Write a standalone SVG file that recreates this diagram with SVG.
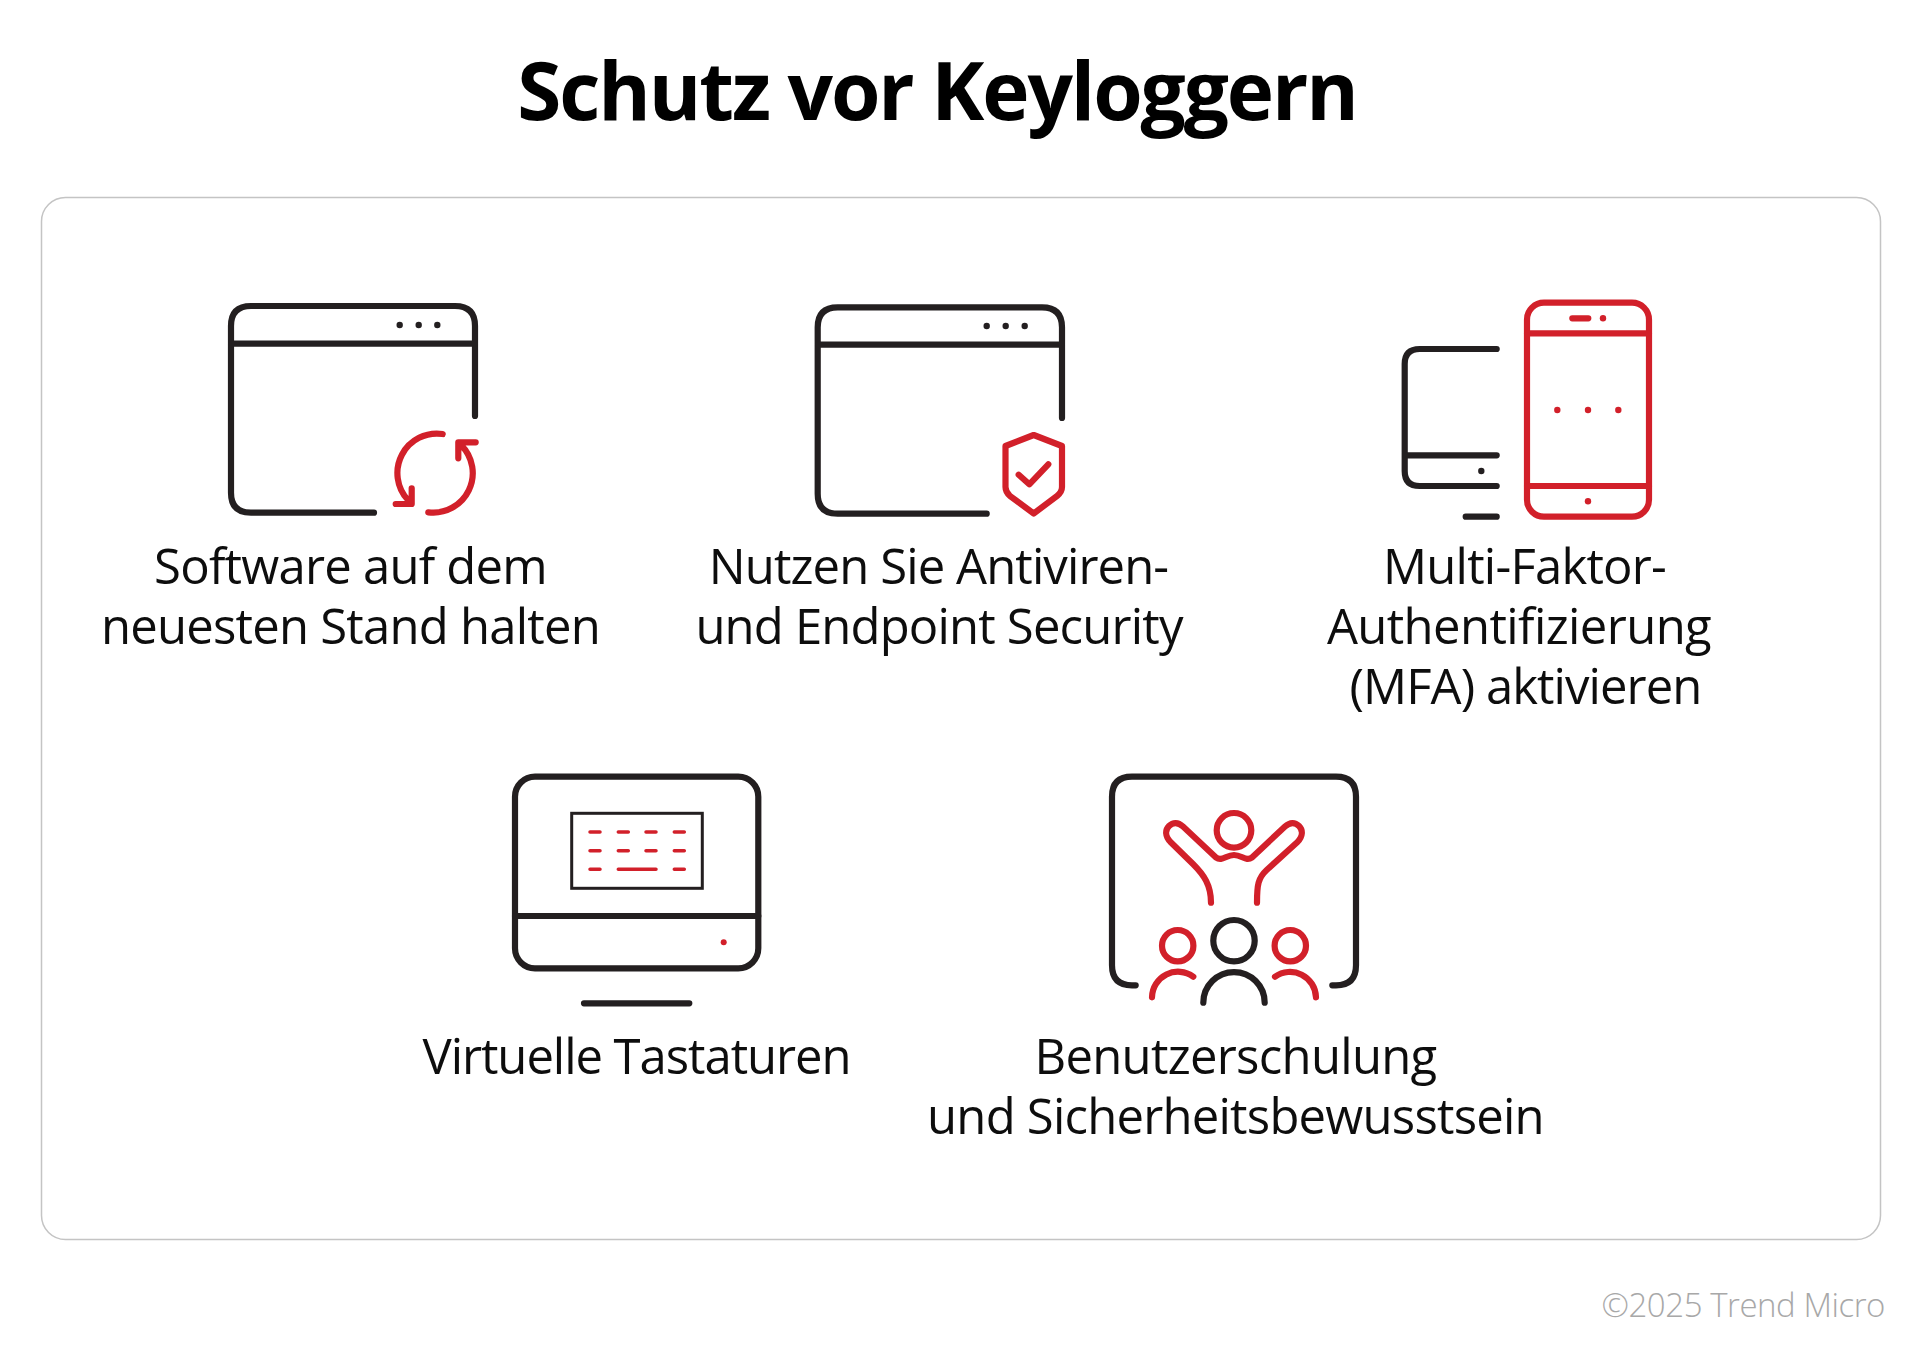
<svg xmlns="http://www.w3.org/2000/svg" width="1920" height="1352" viewBox="0 0 1920 1352">
<style>
text{font-family:"Open Sans","Noto Sans",sans-serif;text-anchor:middle;fill:#0d0d0d}
.t{font-size:80px;font-weight:700;fill:#000;letter-spacing:-2.1px}
.l{font-size:49px;letter-spacing:-.77px}
.c{font-size:33px;fill:#a8a8a8;text-anchor:end;letter-spacing:-.45px;font-weight:300}
.k,.r{fill:none;stroke-width:6.200;stroke-linecap:round;stroke-linejoin:round}
.k{stroke:#231f20}.r{stroke:#d2202a}
.kd{fill:#231f20}.rd{fill:#d2202a}
</style>
<rect width="1920" height="1352" fill="#fff"/>
<text class="t" x="937" y="120">Schutz vor Keyloggern</text>
<rect x="41.500" y="197.500" width="1839" height="1042" rx="24" fill="#fff" stroke="#c4c4c4" stroke-width="1.500"/>
<g id="connectors"/>
<g id="node-software">
<path class="k" d="M475,416V326Q475,306 455,306H251Q231,306 231,326V492.700Q231,512.700 251,512.700H374M231,343.700H475"/>
<circle class="kd" cx="399.700" cy="325" r="3.200"/><circle class="kd" cx="418.700" cy="325" r="3.200"/><circle class="kd" cx="437.300" cy="325" r="3.200"/>
<path class="r" d="M442.700,434A39.500,39.500 0 0 0 408,500M411.700,488.300V504H395.700M428.300,512.300A39.500,39.500 0 0 0 461,445M458.300,458.300V442.300H475.700"/>
<text class="l" x="350.500" y="584">Software auf dem</text><text class="l" x="350.500" y="644">neuesten Stand halten</text>
</g>
<g id="node-antivirus">
<path class="k" d="M1062,418V327.300Q1062,307.300 1042,307.300H837.700Q817.700,307.300 817.700,327.300V493.700Q817.700,513.700 837.700,513.700H986.700M817.700,344.700H1062"/>
<circle class="kd" cx="986.700" cy="326" r="3.200"/><circle class="kd" cx="1005.700" cy="326" r="3.200"/><circle class="kd" cx="1024.700" cy="326" r="3.200"/>
<path class="r" d="M1033.700,435L1062,446V487Q1062,492 1057,496L1033.700,513.500L1010,496Q1005.500,492 1005.500,487V446ZM1018.700,474.700L1029.300,484.300L1048.300,464.300"/>
<text class="l" style="letter-spacing:-.9px" x="938.500" y="584">Nutzen Sie Antiviren-</text><text class="l" style="letter-spacing:-.82px" x="939" y="644">und Endpoint Security</text>
</g>
<g id="node-mfa">
<path class="k" d="M1496.700,349H1419.700Q1404.700,349 1404.700,364V471Q1404.700,486 1419.700,486H1496.700M1404.700,455.300H1496.700M1465.700,516.700H1496.700"/>
<circle class="kd" cx="1481.300" cy="471" r="3.200"/>
<rect class="r" x="1527" y="302.700" width="122" height="214" rx="17"/>
<path class="r" d="M1527,333.300H1649M1527,486H1649M1572.300,318.300H1588.300"/>
<circle class="rd" cx="1603" cy="318.300" r="3.200"/><circle class="rd" cx="1557.300" cy="410" r="3.200"/><circle class="rd" cx="1588" cy="410" r="3.200"/><circle class="rd" cx="1618.300" cy="410" r="3.200"/><circle class="rd" cx="1588" cy="501.300" r="3.200"/>
<text class="l" x="1524.500" y="584">Multi-Faktor-</text><text class="l" style="letter-spacing:-.6px" x="1519" y="644">Authentifizierung</text><text class="l" style="letter-spacing:-.93px" x="1525.500" y="704">(MFA) aktivieren</text>
</g>
<g id="node-keyboard">
<rect class="k" x="515" y="776.700" width="243.300" height="191.600" rx="20"/>
<path class="k" d="M515,916H758.300M584,1003.300H689.300"/>
<rect x="571.700" y="813.300" width="130.600" height="75" fill="none" stroke="#231f20" stroke-width="3"/>
<path class="r" style="stroke-width:3.500" d="M590,832H600M618.300,832H628.300M646,832H656M674.300,832H684.300M590,850.700H600M618.300,850.700H628.300M646,850.700H656M674.300,850.700H684.300M590,869.300H600M618.300,869.300H656M674.300,869.300H684.300"/>
<circle class="rd" cx="723.700" cy="942.300" r="3"/>
<text class="l" style="letter-spacing:-1.050px" x="636.500" y="1074">Virtuelle Tastaturen</text>
</g>
<g id="node-training">
<path class="k" d="M1135.700,985.300H1132Q1112,985.300 1112,965.300V796.700Q1112,776.700 1132,776.700H1336Q1356,776.700 1356,796.700V965.300Q1356,985.300 1336,985.300H1332.300"/>
<circle class="r" cx="1234" cy="830.300" r="17.300"/>
<path class="r" d="M1211,902.700C1211,885 1204,875 1193,864L1170.500,842C1165,836 1165,830 1169,826C1173,822 1178,822 1183,826.500L1216,857.500C1222,862 1226,855 1234,855C1242,855 1246,862 1252,857.500L1285,826.500C1290,822 1295,822 1299,826C1303,830 1303,836 1297.500,842L1266.700,870C1258,878 1257,885 1257,902.700"/>
<circle class="r" cx="1177.700" cy="945.700" r="15.700"/><circle class="r" cx="1290.300" cy="945.700" r="15.700"/>
<circle class="k" cx="1234" cy="940.700" r="20.700"/>
<path class="r" d="M1152,997.300A26,26 0 0 1 1193.300,976.700M1316,997.300A26,26 0 0 0 1275,976.700"/>
<path class="k" d="M1203.300,1002.700A30.700,30.700 0 0 1 1264.700,1002.700"/>
<text class="l" style="letter-spacing:-.7px" x="1235.500" y="1074">Benutzerschulung</text><text class="l" x="1235.500" y="1134">und Sicherheitsbewusstsein</text>
</g>
<text class="c" x="1885" y="1316.500">©2025 Trend Micro</text>
</svg>
